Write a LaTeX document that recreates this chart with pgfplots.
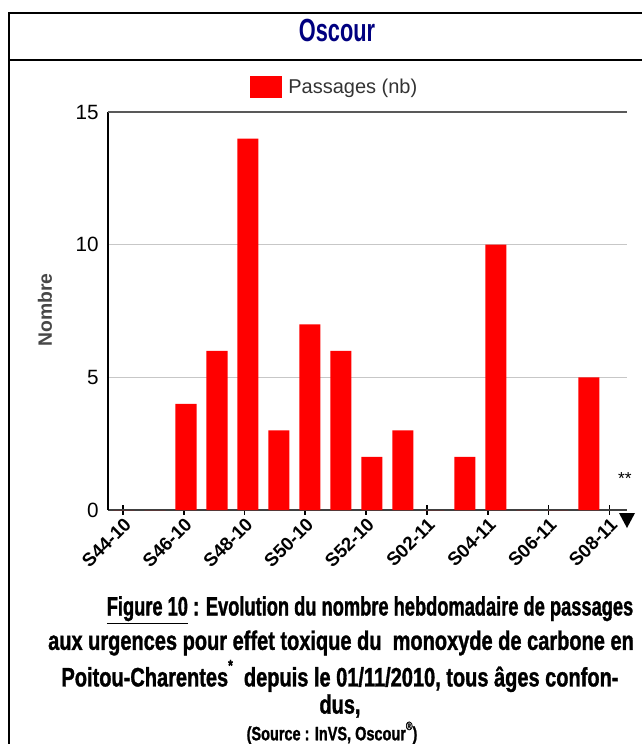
\documentclass[border=0pt]{standalone}
\usepackage{fontspec}
\setmainfont{Liberation Sans}
\newfontfamily\condfont{Liberation Sans}[FakeStretch=0.68]
\newfontfamily\capfont{Liberation Sans}[FakeStretch=0.75,FakeBold=1.2]
\newfontfamily\capfontA{Liberation Sans}[FakeStretch=0.685,FakeBold=1.2]
\usepackage{pgfplots}
\pgfplotsset{compat=1.18}
\definecolor{navy}{HTML}{000080}
\definecolor{barred}{HTML}{FF0000}
\begin{document}
\begin{tikzpicture}
\begin{axis}[
  at={(81pt,-382.5pt)}, anchor=south west,
  scale only axis, width=389.25pt, height=298.5pt,
  xmin=-0.516, xmax=16.23, ymin=0, ymax=15,
  clip=false,
  /pgf/number format/assume math mode=true,
  axis x line*=bottom, axis y line*=left,
  x axis line style={line width=1.8pt, draw=black!75, -},
  y axis line style={line width=1.3pt, draw=black, -},
  xtick={-0.03,1.93,3.89,5.85,7.81,9.77,11.74,13.70,15.66},
  xticklabels={S44-10,S46-10,S48-10,S50-10,S52-10,S02-11,S04-11,S06-11,S08-11},
  x tick label style={rotate=45, anchor=north east, font=\bfseries\fontsize{14}{14}\selectfont, inner sep=1pt},
  xtick style={black, line width=1.2pt},
  major tick length=7pt, tick align=center,
  ytick={0,5,10}, extra y ticks={15}, extra y tick labels={15},
  extra y tick style={grid style={black!65, line width=1.2pt}},
  ymajorgrids, grid style={black!22, line width=1pt},
  ytick style={draw=none},
  y tick label style={font=\fontsize{15.5}{15.5}\selectfont},
  ylabel={Nombre},
  ylabel style={at={(axis description cs:-0.1214,0.5025)}, anchor=center, font=\bfseries\fontsize{14.5}{14.5}\selectfont, text=black!72},
  legend style={at={(axis description cs:0.437,1.063)}, anchor=center, draw=none, fill=none, font=\fontsize{15}{15}\selectfont, text=black!80},
  legend image code/.code={\fill[barred] (0pt,-8.25pt) rectangle (24pt,8.25pt);},
]
\addplot[ybar, fill=barred, draw=none, bar width=0.68] coordinates {
 (0,0) (1,0) (2,4) (3,6) (4,14) (5,3) (6,7) (7,6) (8,2) (9,3)
 (10,0) (11,2) (12,10) (13,0) (14,0) (15,5)
};
\addlegendentry{\hspace{3pt}Passages (nb)}
\node[font=\fontsize{13}{13}\selectfont] at (axis cs:16.16,1.2) {**};
\end{axis}
\begin{scope}[x=0.75pt,y=-0.75pt]
 \draw[line width=1.8pt] (9,744) -- (9,13) -- (642,13);
 \draw[line width=1.8pt] (9,60) -- (642,60);
 \fill (619,513) -- (635,513) -- (627,528) -- cycle;
 \node[font=\condfont\bfseries\fontsize{24}{24}\selectfont, text=navy] at (337,30) {Oscour};
 \begin{scope}[every node/.style={font=\capfont\bfseries\fontsize{20}{20}\selectfont, inner sep=0pt}]
  \node[font=\capfontA\bfseries\fontsize{20}{20}\selectfont] at (370,610) {\underline{Figure 10} : Evolution du nombre hebdomadaire de passages};
  \node at (341,643) {aux urgences pour effet toxique du\ \ monoxyde de carbone en};
  \node at (340,676) {Poitou-Charentes\raisebox{1.1ex}{\fontsize{12}{12}\selectfont*}\ \ depuis le 01/11/2010, tous âges confon-};
  \node at (340,706) {dus,};
  \node[font=\capfont\bfseries\fontsize{14.5}{14.5}\selectfont] at (332,733) {(Source : InVS, Oscour\raisebox{1ex}{\fontsize{9}{9}\selectfont ®})};
 \end{scope}
 \pgfresetboundingbox
 \useasboundingbox (0,0) rectangle (642,744);
\end{scope}
\end{tikzpicture}
\end{document}
